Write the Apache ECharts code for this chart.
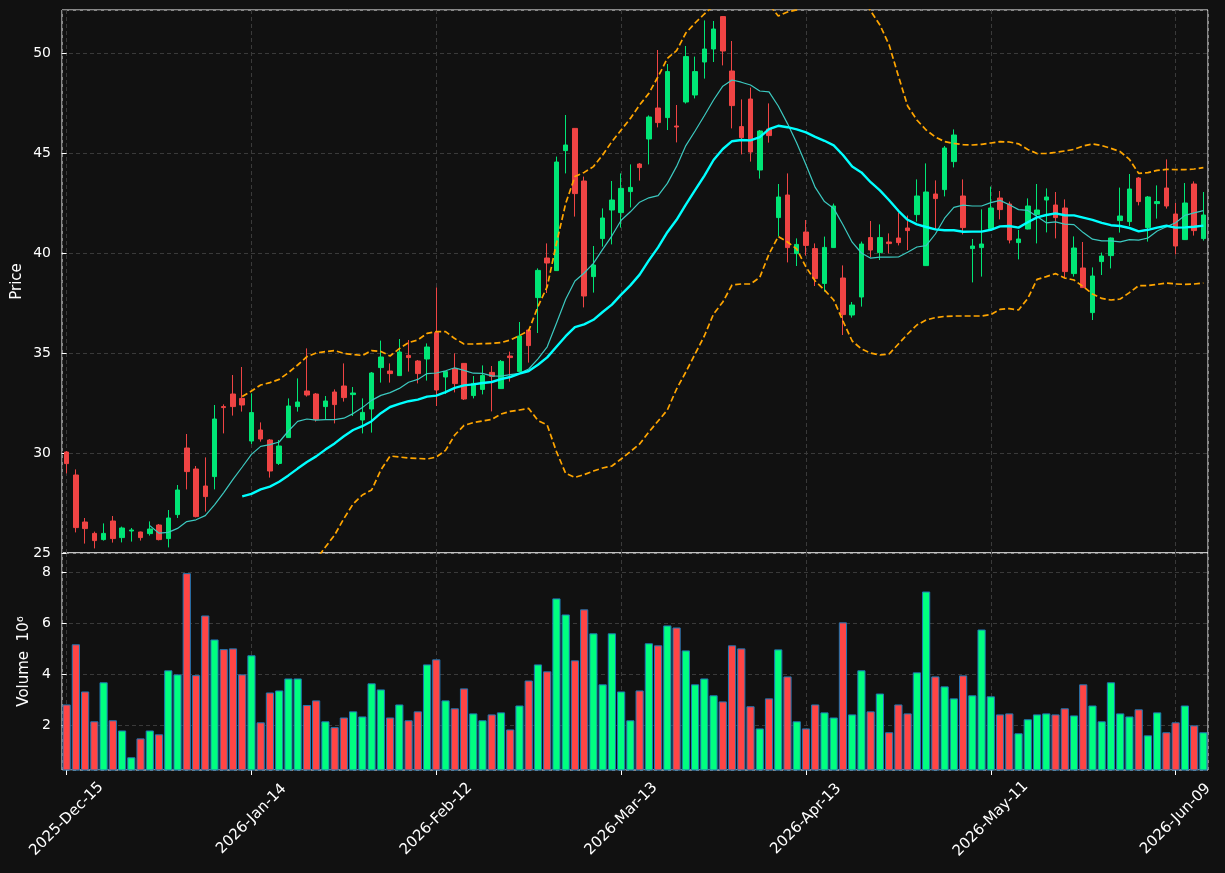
<!DOCTYPE html>
<html>
<head>
<meta charset="utf-8">
<title>Price with Bollinger bands and volume</title>
<script src="https://cdn.jsdelivr.net/npm/echarts@6/dist/echarts.min.js"></script>
<style>
    html, body { margin: 0; padding: 0; background: #111111; }
    #chart { width: 1225px; height: 873px; }
</style>
</head>
<body>
<div id="chart"></div>
<script>
// date labels, one every 20 trading days (bar 0, 20, 40 ...)
const tickLabels = ['2025-Dec-15', '2026-Jan-14', '2026-Feb-12', '2026-Mar-13', '2026-Apr-13', '2026-May-11', '2026-Jun-09'];
const tickStep = 20;

const opens = [30.05, 28.9, 26.55, 25.98, 25.67, 26.6, 25.77, 26.1, 26.05, 25.97,
    26.4, 25.72, 26.92, 30.25, 29.2, 28.35, 28.82, 32.32, 32.95, 32.73,
    30.6, 31.15, 30.65, 29.48, 30.77, 32.32, 33.1, 32.95, 32.32, 33.05,
    33.35, 32.92, 31.65, 32.2, 34.27, 34.1, 33.87, 34.88, 34.6, 34.7,
    36.02, 33.8, 34.22, 34.48, 32.87, 33.18, 34.03, 33.22, 34.85, 34.07,
    36.15, 37.77, 39.75, 39.12, 45.12, 46.23, 43.6, 38.82, 40.72, 42.15,
    42.02, 43.07, 44.45, 45.7, 47.25, 46.77, 46.35, 47.55, 47.9, 49.55,
    50.2, 51.82, 49.1, 46.32, 47.7, 44.15, 46.2, 41.77, 42.9, 39.97,
    41.05, 40.22, 38.48, 40.27, 38.75, 36.9, 37.8, 40.77, 40.02, 40.55,
    40.75, 41.25, 41.92, 39.37, 42.95, 43.17, 44.57, 42.85, 40.22, 40.27,
    41.22, 42.75, 42.45, 40.52, 41.2, 41.93, 42.65, 42.4, 42.25, 38.97,
    39.25, 37.02, 39.57, 39.87, 41.62, 41.57, 43.75, 41.27, 42.47, 43.25,
    41.95, 40.67, 43.45, 40.72];
const highs = [30.1, 29.18, 26.75, 26.07, 26.48, 26.85, 26.32, 26.25, 26.07, 26.58,
    26.45, 27.15, 28.4, 30.95, 29.35, 29.78, 32.4, 32.43, 33.9, 34.3,
    32.98, 31.53, 30.7, 30.65, 32.73, 33.73, 35.23, 33.0, 32.85, 33.18,
    34.48, 33.3, 32.73, 34.05, 35.62, 34.48, 35.7, 35.65, 34.65, 35.48,
    38.28, 34.1, 34.98, 34.5, 33.85, 34.38, 34.35, 34.65, 35.07, 36.55,
    36.2, 39.23, 40.48, 44.82, 46.9, 46.25, 43.82, 40.35, 42.23, 43.6,
    43.98, 44.43, 44.5, 46.88, 50.15, 49.45, 47.4, 50.35, 49.82, 51.63,
    51.6, 51.85, 50.6, 47.68, 48.27, 46.15, 47.48, 43.45, 43.98, 40.73,
    41.65, 40.48, 40.82, 42.47, 39.38, 37.55, 40.57, 41.6, 41.43, 40.98,
    42.02, 41.87, 43.68, 44.48, 43.63, 45.35, 46.18, 43.68, 40.7, 42.18,
    43.32, 43.1, 42.57, 41.15, 42.73, 43.45, 43.23, 43.05, 42.68, 40.83,
    40.55, 39.28, 40.02, 40.77, 43.27, 43.95, 43.8, 42.85, 43.38, 44.68,
    42.5, 43.5, 43.58, 43.05];
const lows = [28.98, 26.03, 25.47, 25.23, 25.62, 25.52, 25.53, 25.57, 25.62, 25.87,
    25.63, 25.28, 26.75, 28.18, 26.78, 27.07, 28.18, 30.98, 31.87, 32.07,
    30.45, 30.57, 28.77, 29.4, 30.75, 32.07, 32.82, 31.57, 31.68, 31.48,
    32.57, 31.85, 30.98, 31.02, 33.52, 33.52, 33.85, 34.07, 33.48, 33.62,
    32.35, 32.95, 33.03, 32.65, 32.73, 32.93, 32.08, 33.2, 33.57, 34.05,
    34.52, 36.0, 38.0, 39.1, 43.98, 41.82, 37.28, 38.02, 40.32, 40.43,
    41.27, 42.28, 43.62, 44.43, 46.28, 46.15, 45.53, 47.47, 47.73, 48.72,
    49.55, 49.38, 46.23, 44.93, 44.57, 43.72, 45.52, 40.82, 39.53, 39.35,
    39.87, 38.35, 38.07, 40.25, 35.9, 36.77, 37.32, 39.78, 39.65, 39.98,
    40.38, 40.15, 41.57, 39.35, 41.15, 42.83, 44.28, 40.93, 38.53, 38.82,
    41.2, 41.68, 40.48, 39.68, 41.18, 40.48, 41.03, 40.73, 38.73, 38.82,
    38.25, 36.65, 38.9, 39.23, 41.02, 41.35, 42.38, 40.57, 41.72, 42.22,
    39.93, 40.65, 40.87, 40.62];
const closes = [29.47, 26.27, 26.22, 25.62, 25.98, 25.72, 26.25, 26.15, 25.77, 26.2,
    25.67, 26.75, 28.15, 29.07, 26.82, 27.82, 31.7, 32.27, 32.32, 32.4,
    32.02, 30.7, 29.1, 30.35, 32.35, 32.55, 32.9, 31.68, 32.6, 32.42,
    32.77, 33.0, 32.03, 34.0, 34.8, 33.97, 35.05, 34.77, 33.97, 35.3,
    33.15, 34.07, 33.47, 32.7, 33.48, 33.88, 33.83, 34.58, 34.77, 35.85,
    35.37, 39.13, 39.5, 44.55, 45.4, 42.97, 37.85, 39.4, 41.75, 42.65,
    43.23, 43.28, 44.27, 46.8, 46.52, 49.07, 46.3, 49.82, 49.07, 50.2,
    51.2, 50.1, 47.37, 45.77, 45.05, 46.1, 45.87, 42.8, 40.27, 40.43,
    40.38, 38.72, 40.28, 42.35, 36.92, 37.4, 40.45, 40.15, 40.77, 40.47,
    40.52, 41.12, 42.85, 43.05, 42.72, 45.25, 45.9, 41.27, 40.35, 40.45,
    42.25, 42.17, 40.65, 40.7, 42.35, 42.15, 42.8, 41.77, 39.07, 40.25,
    38.27, 38.85, 39.85, 40.75, 41.85, 43.2, 42.57, 42.8, 42.57, 42.35,
    40.35, 42.5, 41.12, 41.9];

// volume in millions of shares
const volumes = [2.82, 5.18, 3.33, 2.16, 3.69, 2.2, 1.8, 0.75, 1.49, 1.8,
    1.65, 4.16, 4.0, 7.97, 3.97, 6.31, 5.37, 4.99, 5.02, 4.0,
    4.75, 2.12, 3.29, 3.37, 3.84, 3.84, 2.8, 2.98, 2.16, 1.93,
    2.31, 2.55, 2.35, 3.65, 3.41, 2.31, 2.82, 2.2, 2.55, 4.39,
    4.59, 2.98, 2.67, 3.45, 2.47, 2.2, 2.43, 2.51, 1.84, 2.78,
    3.76, 4.39, 4.12, 6.98, 6.35, 4.55, 6.55, 5.61, 3.61, 5.61,
    3.33, 2.2, 3.37, 5.22, 5.14, 5.92, 5.84, 4.94, 3.61, 3.84,
    3.18, 2.94, 5.14, 5.02, 2.75, 1.88, 3.06, 4.98, 3.92, 2.16,
    1.88, 2.82, 2.51, 2.31, 6.04, 2.43, 4.16, 2.55, 3.25, 1.73,
    2.82, 2.47, 4.08, 7.25, 3.92, 3.53, 3.06, 3.96, 3.18, 5.76,
    3.14, 2.43, 2.47, 1.69, 2.24, 2.43, 2.47, 2.43, 2.67, 2.39,
    3.61, 2.78, 2.16, 3.69, 2.47, 2.35, 2.63, 1.61, 2.51, 1.73,
    2.12, 2.78, 2.0, 1.73];

// 10-day average, starts at bar 9
const ma10 = [26.37, 25.99, 26.03, 26.23, 26.57, 26.66, 26.87, 27.41, 28.02, 28.68,
    29.30, 29.93, 30.33, 30.42, 30.55, 31.10, 31.58, 31.70, 31.64, 31.67,
    31.67, 31.74, 31.97, 32.27, 32.63, 32.88, 33.02, 33.23, 33.54, 33.68,
    33.97, 34.00, 34.11, 34.26, 34.13, 33.99, 33.98, 33.86, 33.84, 33.92,
    33.98, 34.20, 34.71, 35.31, 36.49, 37.69, 38.60, 39.00, 39.48, 40.18,
    40.86, 41.64, 42.06, 42.54, 42.76, 42.87, 43.48, 44.33, 45.37, 46.10,
    46.86, 47.65, 48.34, 48.65, 48.54, 48.40, 48.10, 48.06, 47.35, 46.47,
    45.50, 44.41, 43.28, 42.57, 42.23, 41.41, 40.54, 40.00, 39.74, 39.79,
    39.79, 39.80, 40.04, 40.30, 40.37, 40.95, 41.74, 42.28, 42.39, 42.35,
    42.35, 42.52, 42.63, 42.41, 42.17, 42.13, 41.82, 41.51, 41.56, 41.44,
    41.42, 41.02, 40.69, 40.61, 40.61, 40.56, 40.67, 40.64, 40.75, 41.10,
    41.31, 41.51, 41.88, 42.01, 42.12];
const ma10Start = 9;

// 20-day average and the bands around it, all start at bar 19
const ma20 = [27.83, 27.96, 28.18, 28.32, 28.56, 28.88, 29.22, 29.55, 29.83, 30.17,
    30.48, 30.84, 31.15, 31.34, 31.59, 31.99, 32.30, 32.46, 32.59, 32.67,
    32.82, 32.87, 33.04, 33.26, 33.38, 33.43, 33.50, 33.55, 33.69, 33.80,
    33.97, 34.10, 34.41, 34.78, 35.31, 35.84, 36.29, 36.43, 36.66, 37.05,
    37.42, 37.92, 38.38, 38.92, 39.63, 40.28, 41.04, 41.66, 42.42, 43.14,
    43.86, 44.65, 45.20, 45.59, 45.65, 45.63, 45.79, 46.19, 46.36, 46.29,
    46.18, 46.03, 45.81, 45.61, 45.38, 44.90, 44.32, 44.03, 43.54, 43.13,
    42.64, 42.11, 41.66, 41.43, 41.30, 41.18, 41.14, 41.14, 41.06, 41.07,
    41.07, 41.16, 41.33, 41.35, 41.27, 41.54, 41.78, 41.90, 41.98, 41.89,
    41.88, 41.77, 41.66, 41.51, 41.39, 41.35, 41.25, 41.08, 41.16, 41.27,
    41.36, 41.27, 41.28, 41.31, 41.37];
const bandUpper = [32.82, 33.1, 33.4, 33.52, 33.68, 34.02, 34.4, 34.82, 35.0, 35.07,
    35.12, 34.98, 34.92, 34.88, 35.12, 35.08, 34.85, 35.22, 35.52, 35.65,
    35.98, 36.07, 36.07, 35.72, 35.45, 35.45, 35.47, 35.48, 35.52, 35.65,
    35.87, 36.12, 37.32, 38.32, 40.48, 42.48, 43.82, 44.03, 44.32, 44.9,
    45.57, 46.15, 46.73, 47.4, 47.98, 48.82, 49.73, 50.12, 51.0, 51.5,
    51.95, 52.35, 52.85, 52.78, 52.85, 52.81, 52.8, 52.43, 51.85, 52.05,
    52.16, 52.76, 53.02, 53.07, 53.11, 53.2, 53.04, 52.86, 52.1, 51.4,
    50.4, 48.85, 47.35, 46.65, 46.15, 45.8, 45.57, 45.48, 45.42, 45.4,
    45.43, 45.5, 45.57, 45.55, 45.46, 45.18, 44.97, 44.98, 45.03, 45.1,
    45.18, 45.35, 45.45, 45.37, 45.23, 45.07, 44.68, 43.98, 44.02, 44.13,
    44.18, 44.17, 44.17, 44.2, 44.27];
const bandLower = [22.84, 22.82, 22.96, 23.12, 23.44, 23.74, 24.04, 24.28, 24.66, 25.3,
    25.9, 26.72, 27.45, 27.9, 28.15, 29.15, 29.85, 29.8, 29.75, 29.73,
    29.7, 29.8, 30.13, 30.9, 31.38, 31.52, 31.6, 31.68, 31.95, 32.08,
    32.15, 32.23, 31.62, 31.4, 30.07, 28.98, 28.78, 28.92, 29.1, 29.25,
    29.35, 29.7, 30.07, 30.45, 31.05, 31.6, 32.15, 33.2, 34.05, 34.95,
    35.85, 36.95, 37.55, 38.4, 38.45, 38.45, 38.78, 39.95, 40.82, 40.55,
    40.2, 39.3, 38.6, 38.15, 37.65, 36.6, 35.6, 35.2, 35.0, 34.9,
    34.95, 35.45, 35.95, 36.4, 36.65, 36.77, 36.83, 36.85, 36.85, 36.85,
    36.85, 36.92, 37.18, 37.22, 37.15, 37.73, 38.68, 38.82, 38.97, 38.75,
    38.65, 38.32, 37.95, 37.73, 37.65, 37.7, 38.02, 38.37, 38.37, 38.43,
    38.5, 38.45, 38.43, 38.45, 38.5];
const bandStart = 19;

const upColor = '#00e676';
const downColor = '#ef4444';
const volUpColor = '#00ff80';
const volDownColor = '#ff4545';
const gridLineStyle = { color: '#3a3a3a', type: [4, 3], width: 1 };

let myChart = echarts.init(document.getElementById('chart'));

const barIndex = closes.map((c, i) => i);
const candles = opens.map((o, i) => [o, closes[i], lows[i], highs[i]]);
const volumeBars = volumes.map((v, i) => ({
    value: v,
    itemStyle: { color: closes[i] >= opens[i] ? volUpColor : volDownColor }
}));

function padFront(values, start) {
    return new Array(start).fill('-').concat(values);
}

function showTick(i) {
    return i % tickStep === 0;
}

let option = {
    backgroundColor: '#111111',
    animation: false,
    textStyle: { fontFamily: 'DejaVu Sans', color: '#ffffff' },
    grid: [
        { left: 62, top: 10, width: 1146, height: 543, show: true, borderColor: '#ffffff', borderWidth: 1, backgroundColor: '#111111' },
        { left: 62, top: 553, width: 1146, height: 217, show: true, borderColor: '#ffffff', borderWidth: 1, backgroundColor: '#111111' }
    ],
    xAxis: [
        {
            type: 'category', gridIndex: 0, data: barIndex, boundaryGap: true,
            axisLine: { show: false }, axisTick: { show: false }, axisLabel: { show: false }, splitLine: { show: false }
        },
        {
            type: 'category', gridIndex: 1, data: barIndex, boundaryGap: true,
            axisLine: { show: false },
            axisTick: { show: true, alignWithLabel: true, interval: showTick, length: 5, lineStyle: { color: '#ffffff' } },
            axisLabel: {
                show: true, interval: showTick, rotate: 45, margin: 49,
                align: 'center', verticalAlign: 'middle',
                color: '#ffffff', fontSize: 15, fontFamily: 'DejaVu Sans',
                formatter: (v, i) => tickLabels[i / tickStep]
            },
            splitLine: { show: false }
        },
        // value axes only used for the vertical dashed grid lines at the date ticks
        {
            type: 'value', gridIndex: 0, min: -0.5, max: 123.5, minInterval: 20, maxInterval: 20,
            axisLine: { show: false }, axisTick: { show: false }, axisLabel: { show: false },
            splitLine: { show: true, lineStyle: gridLineStyle }
        },
        {
            type: 'value', gridIndex: 1, min: -0.5, max: 123.5, minInterval: 20, maxInterval: 20,
            axisLine: { show: false }, axisTick: { show: false }, axisLabel: { show: false },
            splitLine: { show: true, lineStyle: gridLineStyle }
        }
    ],
    yAxis: [
        {
            type: 'value', gridIndex: 0, min: 25, max: 52.15, minInterval: 5, maxInterval: 5,
            name: 'Price', nameLocation: 'middle', nameGap: 37, nameMoveOverlap: false,
            nameTextStyle: { color: '#ffffff', fontSize: 15, fontFamily: 'DejaVu Sans' },
            axisLine: { show: false },
            axisTick: { show: true, length: 5, lineStyle: { color: '#ffffff' } },
            axisLabel: { color: '#ffffff', fontSize: 14, margin: 11, showMaxLabel: false },
            splitLine: { show: true, lineStyle: gridLineStyle }
        },
        {
            type: 'value', gridIndex: 1, min: 0.25, max: 8.76, minInterval: 2, maxInterval: 2,
            name: 'Volume  10⁶', nameLocation: 'middle', nameGap: 30, nameMoveOverlap: false,
            nameTextStyle: { color: '#ffffff', fontSize: 15, fontFamily: 'DejaVu Sans' },
            axisLine: { show: false },
            axisTick: { show: true, length: 5, lineStyle: { color: '#ffffff' } },
            axisLabel: { color: '#ffffff', fontSize: 14, margin: 11, showMinLabel: false, showMaxLabel: false },
            splitLine: { show: true, lineStyle: gridLineStyle }
        }
    ],
    series: [
        {
            name: 'OHLC', type: 'candlestick', xAxisIndex: 0, yAxisIndex: 0,
            data: candles, barWidth: 5,
            itemStyle: { color: upColor, color0: downColor, borderColor: upColor, borderColor0: downColor, borderWidth: 1 }
        },
        {
            name: 'MA10', type: 'line', xAxisIndex: 0, yAxisIndex: 0,
            data: padFront(ma10, ma10Start), showSymbol: false, z: 3,
            lineStyle: { color: '#3cc9c0', width: 1.2 }
        },
        {
            name: 'MA20', type: 'line', xAxisIndex: 0, yAxisIndex: 0,
            data: padFront(ma20, bandStart), showSymbol: false, z: 3,
            lineStyle: { color: '#00ffff', width: 2.4 }
        },
        {
            name: 'Upper band', type: 'line', xAxisIndex: 0, yAxisIndex: 0,
            data: padFront(bandUpper, bandStart), showSymbol: false, z: 3,
            lineStyle: { color: '#ffa500', width: 1.7, type: [6, 3] }
        },
        {
            name: 'Lower band', type: 'line', xAxisIndex: 0, yAxisIndex: 0,
            data: padFront(bandLower, bandStart), showSymbol: false, z: 3,
            lineStyle: { color: '#ffa500', width: 1.7, type: [6, 3] }
        },
        {
            name: 'Volume', type: 'bar', xAxisIndex: 1, yAxisIndex: 1,
            data: volumeBars, barWidth: 8.2,
            itemStyle: { borderColor: '#1f77b4', borderWidth: 1 }
        }
    ]
};

myChart.setOption(option);
</script>
</body>
</html>
